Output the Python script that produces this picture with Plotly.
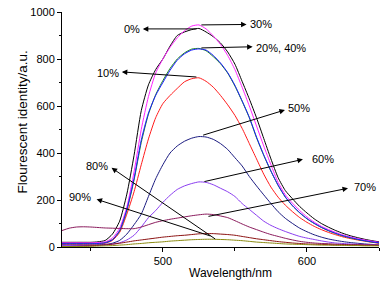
import plotly.graph_objects as go

wavelength = [430, 435, 440, 445, 450, 455, 460, 465, 470, 475, 480, 485, 490, 495, 500,
              505, 510, 515, 520, 525, 530, 535, 540, 545, 550, 555, 560, 565, 570, 575,
              580, 585, 590, 595, 600, 605, 610, 615, 620, 625, 630, 635, 640, 645, 650]

s0 = [20, 20, 20, 20, 20, 22, 28, 55, 110, 225, 390, 580, 690, 755, 800,
      855, 900, 915, 925, 930, 915, 895, 868, 830, 778, 705, 630, 550, 462, 375,
      295, 240, 205, 172, 145, 120, 100, 84, 70, 58, 48, 40, 33, 27, 22]
s10 = [12, 12, 12, 12, 12, 13, 16, 28, 62, 140, 235, 350, 460, 550, 610,
       645, 675, 703, 716, 720, 705, 680, 645, 605, 560, 505, 440, 375, 310, 255,
       212, 178, 150, 125, 105, 88, 74, 62, 52, 43, 36, 30, 25, 20, 16]
s20 = [15, 15, 15, 15, 15, 16, 19, 32, 68, 155, 285, 445, 565, 648, 708,
       760, 800, 826, 842, 845, 835, 810, 780, 740, 685, 620, 550, 465, 390, 322,
       262, 212, 175, 145, 120, 100, 83, 69, 57, 47, 39, 32, 26, 21, 17]
s30 = [18, 18, 18, 18, 18, 19, 22, 38, 80, 170, 320, 500, 640, 740, 800,
       850, 890, 920, 940, 945, 928, 898, 862, 815, 755, 680, 600, 515, 430, 350,
       275, 222, 186, 155, 128, 106, 88, 74, 62, 51, 43, 36, 30, 25, 20]
s40 = [14, 14, 14, 14, 14, 15, 18, 30, 70, 160, 292, 455, 570, 645, 700,
       752, 795, 822, 838, 843, 838, 815, 783, 742, 688, 622, 552, 468, 392, 324,
       263, 213, 176, 146, 121, 101, 84, 70, 58, 48, 40, 33, 27, 22, 18]
s50 = [8, 8, 8, 8, 8, 9, 11, 16, 28, 55, 95, 140, 215, 290, 350,
       400, 430, 450, 463, 470, 468, 458, 440, 415, 380, 345, 300, 260, 222, 185,
       150, 122, 100, 80, 65, 52, 42, 34, 28, 23, 19, 16, 13, 11, 9]
s60 = [6, 6, 6, 6, 6, 7, 9, 12, 18, 30, 50, 85, 125, 155, 190,
       220, 245, 260, 270, 277, 275, 265, 250, 235, 215, 185, 160, 135, 110, 92,
       78, 66, 55, 45, 38, 32, 26, 21, 17, 15, 13, 12, 11, 10, 9]
s70 = [70, 80, 85, 86, 85, 83, 81, 80, 79, 78, 78, 85, 95, 105, 112,
       118, 123, 128, 133, 137, 140, 138, 132, 125, 112, 98, 85, 74, 63, 53,
       45, 37, 30, 24, 20, 17, 15, 14, 12, 11, 10, 10, 9, 9, 8]
s80 = [2, 2, 3, 4, 5, 7, 9, 12, 16, 21, 26, 30, 34, 38, 42,
       45, 48, 50, 53, 56, 57, 57, 55, 53, 50, 45, 40, 35, 31, 27,
       23, 20, 17, 15, 13, 12, 11, 10, 9, 9, 8, 8, 7, 7, 6]
s90 = [2, 2, 2, 2, 3, 4, 5, 6, 8, 10, 13, 15, 18, 20, 22,
       25, 27, 29, 31, 32, 33, 33, 32, 31, 29, 27, 24, 21, 19, 17,
       15, 13, 12, 11, 10, 9, 8, 8, 7, 7, 6, 6, 5, 5, 5]

series_names = ["0%", "10%", "20%", "30%", "40%", "50%", "60%", "70%", "80%", "90%"]
series_values = [s0, s10, s20, s30, s40, s50, s60, s70, s80, s90]
colors = ["#000000", "#ff1a1a", "#1a8a1a", "#ff22ff", "#1a1aff", "#1a1a80",
          "#8a3cf0", "#8a1a5c", "#8b1010", "#8a8a10"]

# label annotations: text, text pos (x, y), anchor, arrow tail (on curve), arrow head (at label)
labels = ["0%", "30%", "20%, 40%", "10%", "50%", "60%", "70%", "80%", "90%"]
label_pos = [(485.5, 928), (559.0, 947), (563.2, 847), (471.0, 742), (585.4, 592),
             (602.0, 375), (631.2, 256), (463.5, 346), (451.6, 214)]
label_anchor = ["right", "left", "left", "right", "left", "left", "left", "right", "right"]
arrow_tail = [(524.3, 928), (525.7, 945), (525.7, 847), (524.3, 723), (526.9, 474),
              (527.8, 277), (530.6, 129), (537.3, 30), (534.0, 45)]
arrow_head = [(486.1, 928), (558.1, 947), (562.3, 852), (471.5, 745), (584.7, 583),
              (597.2, 373), (628.5, 250), (464.4, 337), (454.0, 203)]

FONT = "Arial, Liberation Sans, sans-serif"

fig = go.Figure()
for name, vals, c in zip(series_names, series_values, colors):
    fig.add_trace(go.Scatter(x=wavelength, y=vals, mode="lines", name=name,
                             line=dict(color=c, width=1, shape="spline", smoothing=0.6),
                             showlegend=False, hoverinfo="skip"))

annotations = []
for (hx, hy), (tx, ty) in zip(arrow_head, arrow_tail):
    annotations.append(dict(x=hx, y=hy, ax=tx, ay=ty, xref="x", yref="y",
                            axref="x", ayref="y", text="", showarrow=True,
                            arrowhead=2, arrowsize=1.1, arrowwidth=1, arrowcolor="black"))
for t, (px, py), anc in zip(labels, label_pos, label_anchor):
    annotations.append(dict(x=px, y=py, xref="x", yref="y", text=t, showarrow=False,
                            xanchor=anc, yanchor="middle",
                            font=dict(family=FONT, size=11, color="black")))
annotations.append(dict(x=0.53, y=0, xref="paper", yref="paper", yshift=-26,
                        text="Wavelength/nm", showarrow=False, xanchor="center",
                        yanchor="middle", font=dict(family=FONT, size=12, color="black")))
annotations.append(dict(x=0, y=0.53, xref="paper", yref="paper", xshift=-40,
                        text="Flourescent identity/a.u.", showarrow=False, textangle=-90,
                        xanchor="center", yanchor="middle",
                        font=dict(family=FONT, size=13.5, color="black")))

fig.update_layout(
    width=386, height=283,
    margin=dict(l=62, r=7, t=12, b=36),
    paper_bgcolor="white", plot_bgcolor="white",
    font=dict(family=FONT, size=11, color="black"),
    annotations=annotations,
    hovermode=False,
    xaxis=dict(range=[430, 650], showline=True, linecolor="black", linewidth=1,
               showgrid=False, zeroline=False, ticks="outside", ticklen=4,
               tickcolor="black", tick0=0, dtick=100, automargin=False,
               minor=dict(ticks="outside", ticklen=2.5, dtick=50, tick0=0,
                          tickcolor="black", showgrid=False),
               tickfont=dict(family=FONT, size=11)),
    yaxis=dict(range=[0, 1000], showline=True, linecolor="black", linewidth=1,
               showgrid=False, zeroline=False, ticks="outside", ticklen=4,
               tickcolor="black", tick0=0, dtick=200, automargin=False,
               minor=dict(ticks="outside", ticklen=2.5, dtick=100, tick0=0,
                          tickcolor="black", showgrid=False),
               tickfont=dict(family=FONT, size=11)),
)

fig.write_html("out.html", config={"displayModeBar": False, "staticPlot": True},
               post_script="document.body.style.margin='0';document.body.style.padding='0';")
